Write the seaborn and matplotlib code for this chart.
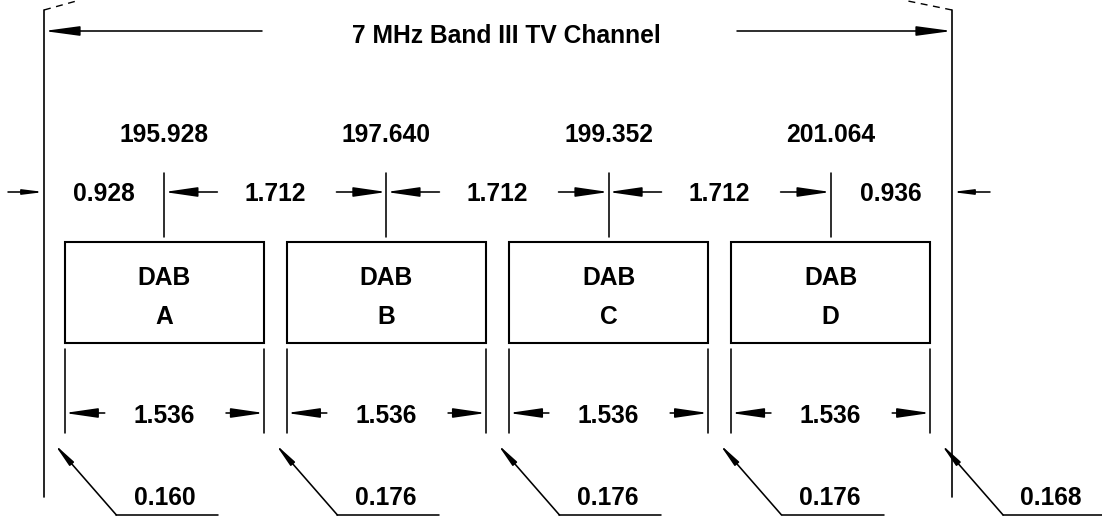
import numpy as np
import pandas as pd
import matplotlib
matplotlib.use("Agg")
import matplotlib.pyplot as plt
import seaborn as sns
from matplotlib.patches import Rectangle

# ---- data (MHz) ----
channel_edges = [195.0, 202.0]
block_names = ["A", "B", "C", "D"]
block_centres = [195.928, 197.640, 199.352, 201.064]
block_width = 1.536
centre_labels = ["195.928", "197.640", "199.352", "201.064"]
spacing_labels = ["0.928", "1.712", "1.712", "1.712", "0.936"]
width_label = "1.536"
guard_labels = ["0.160", "0.176", "0.176", "0.176", "0.168"]
title = "7 MHz Band III TV Channel"

sns.set_theme(style="white")
plt.rcParams['font.family'] = ['Liberation Sans', 'DejaVu Sans']

W, H = 1102, 518
fig = plt.figure(figsize=(W / 100, H / 100), dpi=100)
ax = fig.add_axes([0, 0, 1, 1])
px_per_mhz = (952 - 44) / (channel_edges[1] - channel_edges[0])


def dx(p):
    return p / px_per_mhz


x0 = channel_edges[0] - dx(44)
TXT = dict(fontsize=17.7, fontweight="bold", ha="center", va="baseline", color="black")
LW = 1.15


def arrow(x_from, x_to, y_from, y_to=None, hl=2.0, hw=0.29, lw=LW):
    if y_to is None:
        y_to = y_from
    ax.annotate("", xy=(x_to, y_to), xytext=(x_from, y_from),
                arrowprops=dict(arrowstyle=f"-|>,head_length={hl},head_width={hw}",
                                lw=lw, color="black", shrinkA=0, shrinkB=0,
                                mutation_scale=10))


# channel edges through seaborn
df = pd.DataFrame({"x": [e for e in channel_edges for _ in range(2)],
                   "y": [10, 497] * 2,
                   "edge": [0, 0, 1, 1]})
sns.lineplot(data=df, x="x", y="y", units="edge", estimator=None, sort=False,
             color="black", lw=1.2, ax=ax)

lo, hi = channel_edges
# dashed continuation at the top
ax.plot([lo, lo + dx(36)], [10, 0], color="black", lw=1.0, ls=(0, (5, 4)))
ax.plot([hi, hi - dx(49)], [10, 0], color="black", lw=1.0, ls=(0, (5, 4)))

# title with arrows
ax.text((lo + hi) / 2 + dx(8), 43, title, **TXT)
arrow(lo + dx(218), lo, 31, hl=2.15, hw=0.29)
arrow(hi - dx(215), hi, 31, hl=2.15, hw=0.29)

half = block_width / 2
# centre frequencies + ticks
for c, lab in zip(block_centres, centre_labels):
    ax.text(c, 142, lab, **TXT)
    ax.plot([c, c], [173, 237], color="black", lw=LW)

# spacing row
bounds = [lo] + block_centres + [hi]
for i, lab in enumerate(spacing_labels):
    ax.text((bounds[i] + bounds[i + 1]) / 2, 201, lab, **TXT)
arrow(lo - dx(36), lo, 192, hl=1.2, hw=0.15)
arrow(hi + dx(38), hi, 192, hl=1.2, hw=0.15)
for i in range(len(block_centres) - 1):
    arrow(block_centres[i] + dx(53), block_centres[i], 192)
    arrow(block_centres[i + 1] - dx(50), block_centres[i + 1], 192)

# blocks
for c, name in zip(block_centres, block_names):
    l, r = c - half, c + half
    ax.add_patch(Rectangle((l, 242), block_width, 101, fill=False,
                           edgecolor="black", lw=1.5))
    ax.text(c, 285, "DAB", **TXT)
    ax.text(c, 323.5, name, **TXT)
    for e in (l, r):
        ax.plot([e, e], [349, 433], color="black", lw=LW)
    ax.text(c, 423, width_label, **TXT)
    arrow(l + dx(40), l, 413)
    arrow(r - dx(38), r, 413)

# guard bands with leaders
edges = [lo] + [v for c in block_centres for v in (c - half, c + half)] + [hi]
for k, lab in enumerate(guard_labels):
    g = (edges[2 * k] + edges[2 * k + 1]) / 2
    arrow(g + dx(62), g, 515, 444, hl=1.4, hw=0.17)
    ax.plot([g + dx(62), g + dx(164)], [515, 515], color="black", lw=LW)
    ax.text(g + dx(110), 505, lab, **TXT)

ax.set_xlim(x0, x0 + dx(W))
ax.set_ylim(H, 0)
ax.axis("off")
fig.savefig("out.png", dpi=100, facecolor="white")
